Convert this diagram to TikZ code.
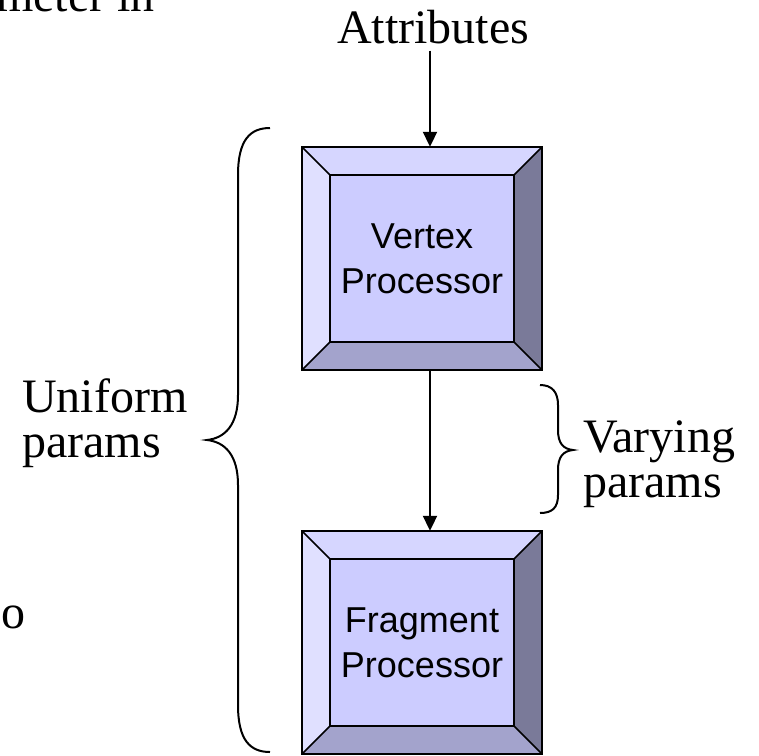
\documentclass[tikz,border=0pt]{standalone}
\usepackage{fontspec}
\setmainfont{Liberation Serif}
\newfontfamily\arialf{Liberation Sans}
\usetikzlibrary{arrows.meta,calc,backgrounds}
\definecolor{bvLeft}{HTML}{E0E0FF}
\definecolor{bvTop}{HTML}{D6D6FF}
\definecolor{bvFace}{HTML}{CCCCFF}
\definecolor{bvBottom}{HTML}{A3A3CC}
\definecolor{bvRight}{HTML}{7A7A99}
\newcommand\mybevel[1]{%
  \coordinate (#1o1) at (#1.north west);
  \coordinate (#1o2) at (#1.north east);
  \coordinate (#1o3) at (#1.south east);
  \coordinate (#1o4) at (#1.south west);
  \coordinate (#1i1) at ($(#1.north west)+(28,28)$);
  \coordinate (#1i2) at ($(#1.north east)+(-28,28)$);
  \coordinate (#1i3) at ($(#1.south east)+(-28,-28)$);
  \coordinate (#1i4) at ($(#1.south west)+(28,-28)$);
  \fill[bvTop] (#1o1) -- (#1o2) -- (#1i2) -- (#1i1) -- cycle;
  \fill[bvLeft] (#1o1) -- (#1i1) -- (#1i4) -- (#1o4) -- cycle;
  \fill[bvRight] (#1o2) -- (#1o3) -- (#1i3) -- (#1i2) -- cycle;
  \fill[bvBottom] (#1o4) -- (#1i4) -- (#1i3) -- (#1o3) -- cycle;
  \fill[bvFace] (#1i1) rectangle (#1i3);
  \draw[innerline] (#1i1) rectangle (#1i3);
  \draw[innerline] (#1o1) -- (#1i1) (#1o2) -- (#1i2) (#1o3) -- (#1i3) (#1o4) -- (#1i4);
  \draw[outerline] (#1o1) rectangle (#1o3);
}
\begin{document}
\begin{tikzpicture}[x=1pt,y=-1pt,
  lbl/.style={font=\fontsize{48}{45}\selectfont, inner sep=0pt, align=left},
  procbox/.style={minimum width=240pt, minimum height=223pt, inner sep=0pt, align=center, font=\arialf\fontsize{36}{45}\selectfont},
  arr/.style={line width=2pt, -{Triangle[length=15pt,width=14pt]}},
  brc/.style={line width=2pt},
  innerline/.style={line width=1.5pt, line join=miter},
  outerline/.style={line width=2.5pt, line join=miter},
  ]
\useasboundingbox (0,0) rectangle (759,755);
\clip (0,0) rectangle (759,755);

\node[procbox] (vp) at (422,258.5) {Vertex\\Processor};
\node[procbox] (fp) at (422,642.5) {Fragment\\Processor};
\begin{scope}[on background layer]
  \mybevel{vp}
  \mybevel{fp}
\end{scope}

\node[lbl, anchor=base] (attr) at (433,43) {Attributes};
\draw[arr] ([xshift=-3pt, yshift=-7pt]attr.south) -- ([xshift=8pt]vp.north);
\draw[arr] ([xshift=8pt]vp.south) -- ([xshift=8pt]fp.north);

\node[lbl, anchor=base west] (unif) at (22,457) {Uniform\\params};
\node[lbl, anchor=base west] (vary) at (583,497) {Varying\\params};

\node[lbl, anchor=base east] (cut1) at (155,11) {rameter in};
\node[lbl, anchor=base west] (cut2) at (1,628) {o};

% left brace
\coordinate (lbtop) at (270,128);
\coordinate (lbtip) at (207,440);
\coordinate (lbbot) at (270,752);
\draw[brc] (lbtop) .. controls (250,128) and (238,140) .. (238,175) -- (238,395)
  .. controls (238,425) and (225,438) .. (lbtip)
  .. controls (225,442) and (238,455) .. (238,485) -- (238,705)
  .. controls (238,740) and (250,752) .. (lbbot);
% right brace
\coordinate (rbtop) at (540,385);
\coordinate (rbtip) at (573,450);
\coordinate (rbbot) at (540,513);
\draw[brc] (rbtop) .. controls (552,385) and (558,392) .. (558,405) -- (558,430)
  .. controls (558,443) and (563,449) .. (rbtip)
  .. controls (563,451) and (558,457) .. (558,470) -- (558,495)
  .. controls (558,508) and (552,513) .. (rbbot);
\end{tikzpicture}
\end{document}
